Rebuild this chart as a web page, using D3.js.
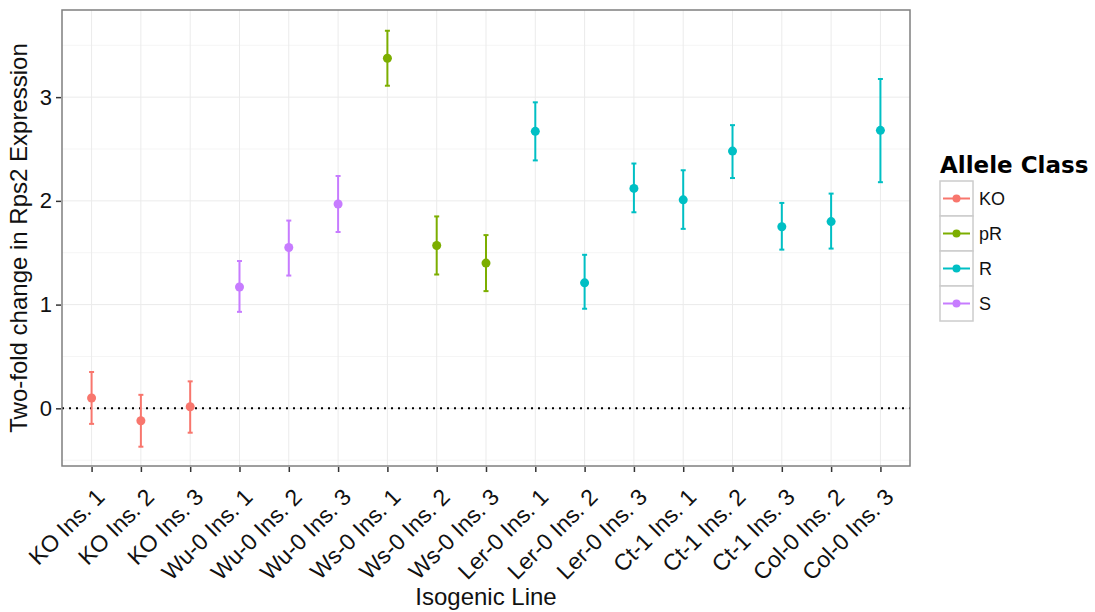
<!DOCTYPE html>
<html>
<head>
<meta charset="utf-8">
<style>
    body { margin: 0; background: #fff; }
    svg { display: block; font-family: 'Liberation Sans', Arial, sans-serif; }
    .grid line { stroke: #ebebeb; stroke-width: 1px; }
    .grid .minor { stroke: #f5f5f5; }
    .axis text { fill: #111; font-size: 22px; }
    .x-labels text { fill: #111; font-size: 23px; }
    .axis line { stroke: #333; stroke-width: 1.5px; }
</style>
</head>
<body>
<svg width="1095" height="612"></svg>

<script src="https://d3js.org/d3.v7.min.js"></script>
<script>
    // data
    let lines = ["KO Ins. 1", "KO Ins. 2", "KO Ins. 3", "Wu-0 Ins. 1", "Wu-0 Ins. 2", "Wu-0 Ins. 3",
        "Ws-0 Ins. 1", "Ws-0 Ins. 2", "Ws-0 Ins. 3", "Ler-0 Ins. 1", "Ler-0 Ins. 2", "Ler-0 Ins. 3",
        "Ct-1 Ins. 1", "Ct-1 Ins. 2", "Ct-1 Ins. 3", "Col-0 Ins. 2", "Col-0 Ins. 3"]
    let alleleClass = ["KO", "KO", "KO", "S", "S", "S", "pR", "pR", "pR", "R", "R", "R", "R", "R", "R", "R", "R"]
    let means = [0.10, -0.12, 0.015, 1.17, 1.55, 1.97, 3.375, 1.57, 1.40, 2.67, 1.21, 2.12, 2.01, 2.48, 1.75, 1.80, 2.68]
    let upper = [0.35, 0.13, 0.26, 1.42, 1.81, 2.24, 3.64, 1.85, 1.67, 2.95, 1.48, 2.36, 2.295, 2.73, 1.98, 2.07, 3.175]
    let lower = [-0.15, -0.37, -0.235, 0.93, 1.28, 1.70, 3.11, 1.29, 1.13, 2.39, 0.96, 1.89, 1.73, 2.22, 1.53, 1.54, 2.18]

    let classes = ["KO", "pR", "R", "S"]
    let classColors = ["#F8766D", "#7CAE00", "#00BFC4", "#C77CFF"]
    let yTicks = [0, 1, 2, 3]
    let yMinor = [-0.5, 0.5, 1.5, 2.5, 3.5]

    let data = lines.map((d, i) => ({ line: d, cls: alleleClass[i], mean: means[i], hi: upper[i], lo: lower[i] }))

    let svg = d3.select("svg")
    let panel = { left: 62, right: 910, top: 10, bottom: 466 }

    let color = d3.scaleOrdinal().domain(classes).range(classColors)

    let x = d3.scalePoint()
        .domain(lines)
        .range([panel.left, panel.right])
        .padding(0.6)

    let y = d3.scaleLinear()
        .domain([-0.556, 3.84])
        .range([panel.bottom, panel.top])

    // grid
    let grid = svg.append("g").attr("class", "grid")
    grid.selectAll(".minor")
        .data(yMinor.filter(v => v > y.domain()[0] && v < y.domain()[1]))
        .join("line")
        .attr("class", "minor")
        .attr("x1", panel.left).attr("x2", panel.right)
        .attr("y1", d => y(d)).attr("y2", d => y(d))
    grid.selectAll(".hmajor")
        .data(yTicks)
        .join("line")
        .attr("class", "hmajor")
        .attr("x1", panel.left).attr("x2", panel.right)
        .attr("y1", d => y(d)).attr("y2", d => y(d))
    grid.selectAll(".vmajor")
        .data(lines)
        .join("line")
        .attr("class", "vmajor")
        .attr("x1", d => x(d)).attr("x2", d => x(d))
        .attr("y1", panel.top).attr("y2", panel.bottom)

    // dotted zero line
    svg.append("line")
        .attr("x1", panel.left).attr("x2", panel.right)
        .attr("y1", y(0)).attr("y2", y(0))
        .attr("stroke", "#000")
        .attr("stroke-width", 2)
        .attr("stroke-dasharray", "2,5")

    // error bars
    let bars = svg.append("g")
        .selectAll("g")
        .data(data)
        .join("g")
        .attr("stroke", d => color(d.cls))
        .attr("fill", d => color(d.cls))
        .attr("stroke-width", 2)

    bars.append("line")
        .attr("x1", d => x(d.line)).attr("x2", d => x(d.line))
        .attr("y1", d => y(d.hi)).attr("y2", d => y(d.lo))
    bars.append("line")
        .attr("x1", d => x(d.line) - 2.5).attr("x2", d => x(d.line) + 2.5)
        .attr("y1", d => y(d.hi)).attr("y2", d => y(d.hi))
    bars.append("line")
        .attr("x1", d => x(d.line) - 2.5).attr("x2", d => x(d.line) + 2.5)
        .attr("y1", d => y(d.lo)).attr("y2", d => y(d.lo))
    bars.append("circle")
        .attr("cx", d => x(d.line))
        .attr("cy", d => y(d.mean))
        .attr("r", 4.5)
        .attr("stroke", "none")

    // panel border
    svg.append("rect")
        .attr("x", panel.left).attr("y", panel.top)
        .attr("width", panel.right - panel.left)
        .attr("height", panel.bottom - panel.top)
        .attr("fill", "none")
        .attr("stroke", "#7f7f7f")
        .attr("stroke-width", 1.5)

    // axes
    let yAxis = svg.append("g")
        .attr("class", "y axis")
        .attr("transform", `translate(${panel.left - 1},0)`)
        .call(d3.axisLeft(y).tickValues(yTicks).tickSize(5).tickPadding(4).tickFormat(d3.format("d")))
        .call(g => g.select(".domain").remove())

    let xAxis = svg.append("g")
        .attr("class", "x axis")
        .attr("transform", `translate(0,${panel.bottom + 1})`)
        .call(d3.axisBottom(x).tickSize(5).tickFormat(""))
        .call(g => g.select(".domain").remove())

    svg.append("g")
        .attr("class", "x-labels")
        .selectAll("text")
        .data(lines)
        .join("text")
        .attr("transform", d => `translate(${x(d) + 3},${panel.bottom + 21}) rotate(-45)`)
        .attr("text-anchor", "end")
        .attr("dy", "0.71em")
        .text(d => d)

    svg.append("text")
        .attr("x", (panel.left + panel.right) / 2)
        .attr("y", 605)
        .attr("text-anchor", "middle")
        .attr("font-size", "24px")
        .attr("fill", "#111")
        .text("Isogenic Line")

    svg.append("text")
        .attr("transform", `translate(27,${(panel.top + panel.bottom) / 2}) rotate(-90)`)
        .attr("text-anchor", "middle")
        .attr("font-size", "24px")
        .attr("fill", "#111")
        .text("Two-fold change in Rps2 Expression")

    // legend
    let legend = svg.append("g").attr("transform", "translate(940,181)")
    legend.append("text")
        .attr("x", 0).attr("y", -8)
        .attr("font-family", "'DejaVu Sans', Verdana, sans-serif")
        .attr("font-weight", "bold")
        .attr("font-size", "23px")
        .text("Allele Class")

    let keys = legend.selectAll(".key")
        .data(classes)
        .join("g")
        .attr("class", "key")
        .attr("transform", (d, i) => `translate(0,${i * 35})`)
    keys.append("rect")
        .attr("width", 33).attr("height", 35)
        .attr("fill", "#fff")
        .attr("stroke", "#cccccc")
        .attr("stroke-width", 1.5)
    keys.append("line")
        .attr("x1", 3).attr("x2", 30)
        .attr("y1", 17.5).attr("y2", 17.5)
        .attr("stroke", d => color(d))
        .attr("stroke-width", 2)
    keys.append("circle")
        .attr("cx", 16.5).attr("cy", 17.5).attr("r", 4)
        .attr("fill", d => color(d))
    keys.append("text")
        .attr("x", 39).attr("y", 17.5)
        .attr("dy", "0.36em")
        .attr("font-size", "18px")
        .attr("fill", "#111")
        .text(d => d)
</script>
</body>
</html>
